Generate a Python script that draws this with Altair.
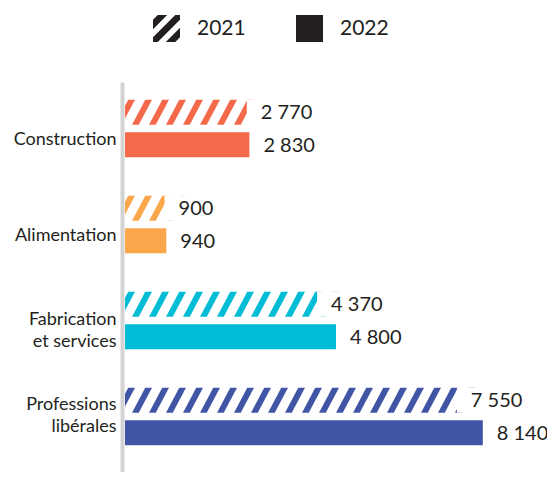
import altair as alt
import pandas as pd

# ---- data ----
CATEGORIES = ["Construction", "Alimentation", "Fabrication et services", "Professions libérales"]
VALUES_2021 = [2770, 900, 4370, 7550]
VALUES_2022 = [2830, 940, 4800, 8140]
YEARS = ["2021", "2022"]
COLORS = ["#F4694A", "#FAA64B", "#00BCD4", "#4155A5"]
LABEL_LINES = {
    "Fabrication et services": ["Fabrication", "et services"],
    "Professions libérales": ["Professions", "libérales"],
}

# ---- layout / style constants ----
W, H = 400, 390
X_MAX = 9100
BAR_H = 25
STRIPE_PX = 17
FONT = "Lato"
INK = "#231F20"
UNITS_PER_PX = X_MAX / W

rows = []
for c, v21, v22 in zip(CATEGORIES, VALUES_2021, VALUES_2022):
    rows.append({"cat": c, "year": "2021", "value": v21})
    rows.append({"cat": c, "year": "2022", "value": v22})
df = pd.DataFrame(rows)

# hatch stripes for the 2021 bars (positions derived from the values)
stripe_step = STRIPE_PX * UNITS_PER_PX
stripe_rows = []
for c, v in zip(CATEGORIES, VALUES_2021):
    n = int((v + 12 * UNITS_PER_PX) // stripe_step) + 1
    for k in range(n):
        stripe_rows.append({"cat": c, "year": "2021", "pos": k * stripe_step})
stripes_df = pd.DataFrame(stripe_rows)

legend_df = pd.DataFrame({"year": YEARS})

STRIPE_PATH = "M-0.8,1L-0.26,1L0.8,-1L0.26,-1Z"
HATCH_ICON = ("M-1,0.65L-1,1L-0.65,1L1,-0.65L1,-1L0.65,-1Z"
              "M-1,-0.65L-1,0.05L0.05,-1L-0.65,-1Z"
              "M1,-0.05L1,0.65L0.65,1L-0.05,1Z")

label_expr = " : ".join(
    [f"datum.label == '{k}' ? {v!r}" for k, v in LABEL_LINES.items()] + ["datum.label"]
)

x_scale = alt.Scale(domain=[0, X_MAX], nice=False, zero=True)
y_enc = alt.Y(
    "cat:N",
    sort=CATEGORIES,
    scale=alt.Scale(domain=CATEGORIES, paddingInner=0, paddingOuter=0.03125, align=0),
    axis=alt.Axis(
        title=None, labelFont=FONT, labelFontSize=18, labelColor=INK,
        labelPadding=6, labelLineHeight=22, ticks=False, grid=False,
        domainColor="#D3D3D3", domainWidth=4, offset=3, labelExpr=label_expr,
        labelOffset={
            "condition": [
                {"test": "datum.value == 'Professions libérales'", "value": -13},
                {"test": "datum.value == 'Fabrication et services'", "value": -2},
            ],
            "value": 10,
        },
    ),
)
yoff_enc = alt.YOffset(
    "year:N",
    scale=alt.Scale(domain=YEARS, paddingInner=0.2308, paddingOuter=0.592, align=0.46),
)
color_enc = alt.Color("cat:N", scale=alt.Scale(domain=CATEGORIES, range=COLORS), legend=None)

base = alt.Chart(df)

bars = base.transform_filter("datum.year == '2022'").mark_bar().encode(
    x=alt.X("value:Q", scale=x_scale, axis=None),
    y=y_enc, yOffset=yoff_enc, color=color_enc,
)

stripes = alt.Chart(stripes_df).mark_point(
    shape=STRIPE_PATH, size=BAR_H ** 2, filled=True, opacity=1, strokeWidth=0, clip=True
).encode(
    x=alt.X("pos:Q", scale=x_scale, axis=None),
    y=y_enc, yOffset=yoff_enc, color=color_enc,
)

mask = base.transform_filter("datum.year == '2021'").transform_calculate(
    end=f"datum.value + {30 * UNITS_PER_PX}"
).mark_bar(color="white").encode(
    x=alt.X("value:Q", scale=x_scale, axis=None),
    x2="end:Q",
    y=y_enc, yOffset=yoff_enc,
)

labels = base.transform_calculate(
    label="replace(format(datum.value, ','), ',', ' ')"
).mark_text(align="left", baseline="middle", dx=14, dy=1, font=FONT, fontSize=20, color=INK).encode(
    x=alt.X("value:Q", scale=x_scale, axis=None),
    y=y_enc, yOffset=yoff_enc, text="label:N",
)

legend_layer = alt.Chart(legend_df).transform_filter("false").mark_point(
    filled=True, opacity=1, size=729, color=INK
).encode(
    shape=alt.Shape(
        "year:N",
        scale=alt.Scale(domain=YEARS, range=[HATCH_ICON, "square"]),
        legend=alt.Legend(
            title=None, orient="none", legendX=28, legendY=-67, direction="horizontal",
            symbolSize=729, symbolFillColor=INK, symbolStrokeWidth=0, symbolOpacity=1,
            labelFont=FONT, labelFontSize=21, labelColor=INK, labelOffset=17,
            columnPadding=50, padding=0,
        ),
    )
)

chart = alt.layer(bars, stripes, mask, labels, legend_layer).properties(
    width=W, height=H,
    autosize=alt.AutoSizeParams(type="none"),
    padding={"left": 117, "top": 74, "right": 22, "bottom": 0},
    background="white",
).configure_view(stroke=None)

chart.save("out.html", embed_options={"renderer": "svg", "actions": False})
